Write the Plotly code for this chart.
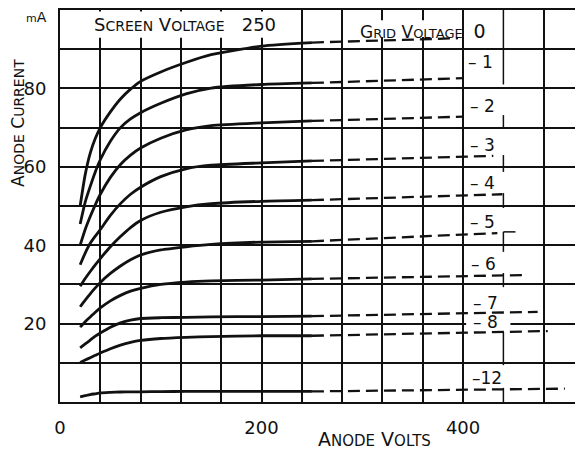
import plotly.graph_objects as go

# ---- data read off the valve characteristic ----
# anode voltage points for the solid part of each curve (V)
anode_volts = [20, 25, 30, 35, 40, 50, 60, 70, 80, 100, 125, 150, 200, 250]

grid_voltages = [0, -1, -2, -3, -4, -5, -6, -7, -8, -12]

# anode current (mA) at anode_volts, one list per grid voltage
current_g0 = [50, 58, 63.5, 67.2, 70, 74, 77.3, 79.8, 81.8, 84.2, 86.6, 88.6, 90.8, 91.7]
current_g1 = [45.4, 51, 55, 58.7, 61.8, 66.5, 70, 72.2, 73.8, 76.2, 78.6, 80.1, 81, 81.4]
current_g2 = [40, 44, 47.3, 50.3, 53, 57.3, 60.6, 63, 64.8, 67.3, 69.4, 70.5, 71.2, 71.7]
current_g3 = [35, 38, 40.5, 42.3, 44, 47.6, 50.6, 53, 54.8, 57.5, 59.5, 60.4, 61, 61.5]
current_g4 = [29.5, 31.5, 33.3, 35, 36.6, 39.6, 42.2, 44.5, 46.3, 48.4, 49.8, 50.6, 51.2, 51.5]
current_g5 = [24.3, 26, 27.6, 29.1, 30.5, 32.8, 34.7, 36.3, 37.5, 38.8, 39.6, 40.2, 40.8, 41]
current_g6 = [19.1, 20.5, 21.7, 22.9, 24, 25.8, 27.2, 28.3, 29, 30, 30.6, 30.9, 31.1, 31.4]
current_g7 = [13.8, 14.8, 15.8, 16.8, 17.6, 19.1, 20.2, 20.9, 21.3, 21.5, 21.6, 21.7, 21.8, 21.9]
current_g8 = [10.1, 10.7, 11.3, 11.9, 12.5, 13.6, 14.5, 15.2, 15.7, 16.2, 16.5, 16.7, 16.9, 16.9]
current_g12 = [1.3, 1.6, 1.9, 2.1, 2.3, 2.45, 2.55, 2.6, 2.6, 2.65, 2.7, 2.7, 2.7, 2.7]

solid_currents = [current_g0, current_g1, current_g2, current_g3, current_g4,
                  current_g5, current_g6, current_g7, current_g8, current_g12]

# dashed continuation beyond the screen voltage: end point of each curve
dash_end_volts = [395, 400, 400, 430, 439, 434, 464, 474, 484, 501]
dash_end_current = [92.8, 82.6, 72.8, 62.8, 53.0, 43.1, 32.4, 23.0, 18.1, 3.4]

grid_labels = ["GRID VOLTAGE 0", "\u2013 1", "\u2013 2", "\u2013 3", "\u2013 4",
               "\u2013 5", "\u2013 6", "\u2013 7", "\u2013 8", "\u201312"]

x_tick_labels = {0: "0", 200: "200", 400: "400"}
y_tick_labels = {20: "20", 40: "40", 60: "60", 80: "80"}

# ---- styling ----
INK = "#111111"
FONT = "DejaVu Sans"
# the page body keeps its default 8px margin, so the figure is made
# smaller by that much and the plot area still lands where it should
PAGE_PAD = 8

fig = go.Figure()

for currents, v_end, i_end in zip(solid_currents, dash_end_volts, dash_end_current):
    fig.add_trace(go.Scatter(
        x=anode_volts, y=currents, mode="lines",
        line=dict(color=INK, width=2.8, shape="spline", smoothing=0.6),
        hoverinfo="skip", showlegend=False,
    ))
    fig.add_trace(go.Scatter(
        x=[anode_volts[-1], v_end], y=[currents[-1], i_end], mode="lines",
        line=dict(color=INK, width=2.3, dash="12px,6px"),
        hoverinfo="skip", showlegend=False,
    ))

# grid voltage labels (label positions in V / mA)
label_pos = [(360, 94.6), (417, 86.7), (419, 75.5), (419, 65.6), (419, 55.9),
             (419, 45.9), (420, 35.2), (422, 25.3), (422, 20.4), (424, 6.1)]
for text, (lx, ly) in zip(grid_labels, label_pos):
    if text.startswith("GRID"):
        text = ("G<span style='font-size:13px'>RID</span> "
                "V<span style='font-size:13px'>OLTAGE</span>\u00a0\u00a0"
                "<span style='font-size:19px'>0</span>")
    fig.add_annotation(x=lx, y=ly, text=text, showarrow=False,
                       xanchor="center", yanchor="middle",
                       font=dict(family=FONT, size=17, color=INK))

fig.add_annotation(
    x=124, y=96.2, showarrow=False, xanchor="center", yanchor="middle",
    text=("S<span style='font-size:14px'>CREEN</span> "
          "V<span style='font-size:14px'>OLTAGE</span>\u00a0\u00a0 250"),
    font=dict(family=FONT, size=18, color=INK))

fig.add_annotation(
    x=312, xref="x", y=-0.094, yref="paper", showarrow=False,
    xanchor="center", yanchor="middle",
    text=("A<span style='font-size:15px'>NODE</span> "
          "V<span style='font-size:15px'>OLTS</span>"),
    font=dict(family=FONT, size=19, color=INK))

fig.add_annotation(
    x=-0.0803, xref="paper", y=0.712, yref="paper", showarrow=False,
    xanchor="center", yanchor="middle", textangle=-90, borderpad=0,
    text=("A<span style='font-size:14px'>NODE</span> "
          "C<span style='font-size:14px'>URRENT</span>"),
    font=dict(family=FONT, size=17, color=INK))

fig.add_annotation(
    x=-0.044, xref="paper", y=1.005, yref="paper", showarrow=False,
    xanchor="center", yanchor="top", borderpad=0,
    text="<span style='font-size:11px'>m</span>A",
    font=dict(family=FONT, size=14, color=INK))

# blank out the gridlines behind the lettering
for x0, x1, y0, y1 in [(1, 229, 92.9, 99.6), (294, 396, 93.1, 97.4), (403, 447, 19.2, 20.8)]:
    fig.add_shape(type="rect", x0=x0, x1=x1, y0=y0, y1=y1, layer="between",
                  line=dict(width=0), fillcolor="white")

# the hand drawn 440 V line is only partly present
for y0, y1 in [(100, 81), (73.2, 69.9), (63, 58.7), (53.3, 49.5), (43.4, 38.3),
               (32.9, 29.3), (17.9, 9.4), (3.6, 0)]:
    fig.add_shape(type="line", x0=440, x1=440, y0=y0, y1=y1, layer="between",
                  line=dict(color=INK, width=1.5))
fig.add_shape(type="line", x0=440, x1=452, y0=43.4, y1=43.4, layer="between",
              line=dict(color=INK, width=1.5))

x_grid = [v for v in range(0, 521, 40) if v != 440]
y_grid = list(range(0, 101, 10))

fig.update_layout(
    width=583 - PAGE_PAD, height=450 - PAGE_PAD,
    margin=dict(l=60 - PAGE_PAD, r=0, t=10 - PAGE_PAD, b=48),
    paper_bgcolor="white", plot_bgcolor="white",
    font=dict(family=FONT, color=INK),
    xaxis=dict(
        range=[0, 519], tickvals=x_grid,
        ticktext=[x_tick_labels.get(v, "") for v in x_grid],
        showgrid=True, gridcolor=INK, gridwidth=1.5, zeroline=False,
        showline=True, linecolor=INK, linewidth=2, mirror=True,
        ticks="", tickfont=dict(family=FONT, size=18, color=INK),
        ticklabelstandoff=8, automargin=False,
    ),
    yaxis=dict(
        range=[0, 100], tickvals=y_grid,
        ticktext=[y_tick_labels.get(v, "") for v in y_grid],
        showgrid=True, gridcolor=INK, gridwidth=1.5, zeroline=False,
        showline=True, linecolor=INK, linewidth=2, mirror=False,
        ticks="", tickfont=dict(family=FONT, size=18, color=INK),
        ticklabelstandoff=8, automargin=False,
    ),
)

fig.write_html("out.html")
